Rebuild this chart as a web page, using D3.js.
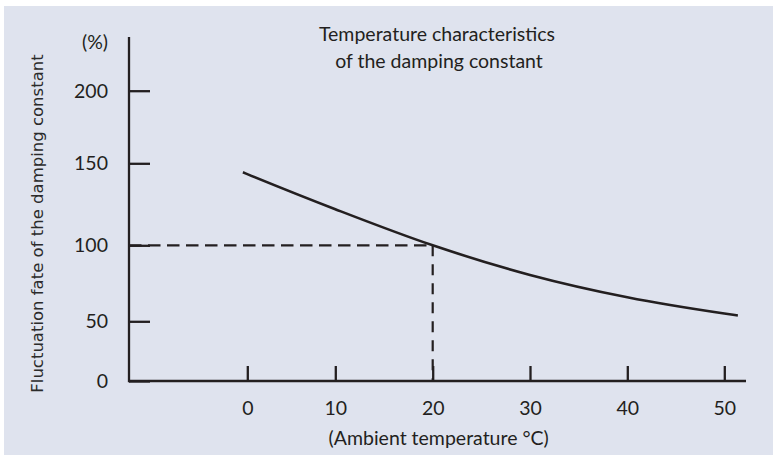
<!DOCTYPE html>
<html><head><meta charset="utf-8">
<script src="https://cdn.jsdelivr.net/npm/d3@7/dist/d3.min.js"></script>
<style>
html,body{margin:0;padding:0;background:#fff;}
svg{display:block;}
</style></head>
<body>
<svg id="chart" width="773" height="455"></svg>
<script>
// ---- data ----
const xTicks = [0, 10, 20, 30, 40, 50];
const yTicks = [0, 50, 100, 150, 200];
const temps = [-0.5, 0, 10, 20, 30, 40, 50, 51.4];
const rates = [144.5, 143.4, 122, 100, 80.5, 65.8, 55.1, 53.8];
const refTemp = 20, refRate = 100;
const titleLines = ["Temperature characteristics", "of the damping constant"];
const yTitle = "Fluctuation fate of the damping constant";
const xTitle = "(Ambient temperature °C)";
const yUnit = "(%)";

// ---- layout ----
const W = 773, H = 455;
const frame = {left: 129, right: 746, top: 37, bottom: 381};
const ink = "#231f20";
const tickFont = "Lato, 'Noto Sans', sans-serif";
const fs = "19.5px";

const svg = d3.select("#chart");
svg.append("rect").attr("x", 4).attr("y", 6).attr("width", W - 4).attr("height", H - 6).attr("fill", "#dfe3ee");

// hand-drawn chart: tick spacing is irregular, so polylinear scales
const x = d3.scaleLinear().domain(xTicks).range([247.3, 335.3, 432.7, 530, 627.3, 724.3]);
const y = d3.scaleLinear().domain(yTicks).range([381, 321.3, 245.3, 163.3, 90.7]);

// axes
const yAxis = d3.axisLeft(y).tickValues(yTicks).tickSizeInner(-21).tickSizeOuter(0).tickPadding(21);
const gy = svg.append("g").attr("transform", `translate(${frame.left},0)`).call(yAxis);
const xAxis = d3.axisBottom(x).tickValues(xTicks).tickSizeInner(-15).tickSizeOuter(0).tickPadding(20);
const gx = svg.append("g").attr("transform", `translate(0,${frame.bottom})`).call(xAxis);
[gx, gy].forEach(g => {
  g.select(".domain").remove();
  g.selectAll(".tick line").attr("stroke", ink).attr("stroke-width", 2.3);
  g.selectAll(".tick text").attr("fill", ink).style("font-family", tickFont).style("font-size", fs);
});
gy.selectAll(".tick text").attr("dy", "0.34em");

// axis lines
svg.append("line").attr("x1", frame.left).attr("x2", frame.left).attr("y1", frame.top).attr("y2", frame.bottom + 1.15)
  .attr("stroke", ink).attr("stroke-width", 2.3);
svg.append("line").attr("x1", frame.left).attr("x2", frame.right).attr("y1", frame.bottom).attr("y2", frame.bottom)
  .attr("stroke", ink).attr("stroke-width", 2.3);

// reference dashed lines
svg.append("line").attr("x1", frame.left).attr("x2", x(refTemp)).attr("y1", y(refRate)).attr("y2", y(refRate))
  .attr("stroke", ink).attr("stroke-width", 2.2).attr("stroke-dasharray", "12.5,6.5");
svg.append("line").attr("x1", x(refTemp)).attr("x2", x(refTemp)).attr("y1", y(refRate)).attr("y2", frame.bottom)
  .attr("stroke", ink).attr("stroke-width", 2.2).attr("stroke-dasharray", "11,8");

// curve
const pts = temps.map((t, i) => [t, rates[i]]);
svg.append("path").datum(pts)
  .attr("d", d3.line().x(d => x(d[0])).y(d => y(d[1])).curve(d3.curveMonotoneX))
  .attr("fill", "none").attr("stroke", ink).attr("stroke-width", 2.6);

// texts
svg.append("text").attr("x", 108).attr("y", 49).attr("text-anchor", "end")
  .attr("fill", ink).style("font-family", tickFont).style("font-size", fs).text(yUnit);

const title = svg.append("text").attr("fill", ink).style("font-family", tickFont).style("font-size", fs)
  .attr("text-anchor", "middle");
title.append("tspan").attr("x", 437).attr("y", 40.5).text(titleLines[0]);
title.append("tspan").attr("x", 439).attr("y", 68.3).text(titleLines[1]);

svg.append("text").attr("x", 438.7).attr("y", 445).attr("text-anchor", "middle")
  .attr("fill", ink).style("font-family", tickFont).style("font-size", fs).text(xTitle);

svg.append("text").attr("transform", "translate(43,223.5) rotate(-90)").attr("text-anchor", "middle")
  .attr("fill", "#2b2b2b").style("font-family", "'DejaVu Sans', sans-serif").style("font-size", "16.5px").text(yTitle);
</script>
</body></html>
